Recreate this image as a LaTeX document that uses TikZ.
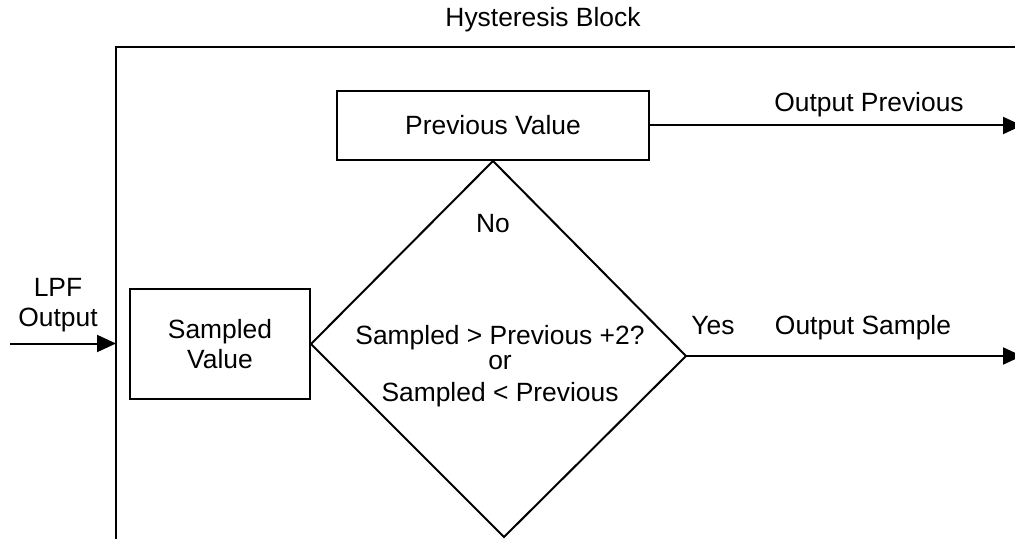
\documentclass[tikz,border=0pt]{standalone}
\usepackage{fontspec}
\setmainfont{Liberation Sans}
\usetikzlibrary{arrows.meta}
\begin{document}
\begin{tikzpicture}[x=0.5pt,y=-0.5pt,line width=1pt,
    font=\fontsize{13.2}{15}\selectfont,
    blockbox/.style={draw,inner sep=0pt,align=center},
    txt/.style={anchor=base,inner sep=0pt},
    flow/.style={-{Triangle[length=9.5pt,width=8.5pt]}}]
  \useasboundingbox (0,0) rectangle (1015,539);
  \clip (0,0) rectangle (1015,539);
  \draw (116,545) -- (116,47.5) -- (1020,47.5);
  \node[txt] (title) at (543,27) {Hysteresis Block};
  \node[blockbox,minimum width=156pt,minimum height=34.5pt] (prev) at (493,125.5) {Previous Value};
  \node[blockbox,minimum width=90pt,minimum height=55pt] (samp) at (220,344) {Sampled\\Value};
  \coordinate (dtop) at (prev.south);
  \coordinate (dleft) at (samp.east);
  \coordinate (dbottom) at (504,537);
  \coordinate (dright) at (686,356);
  \draw (dtop) -- (dleft) -- (dbottom) -- (dright) -- cycle;
  \node[inner sep=0pt,align=center] (cond) at (500,366)
    {Sampled > Previous +2?\\[-2.5pt]or\\[1pt]Sampled < Previous};
  \node[txt] (no) at (493,233) {No};
  \node[txt] (yes) at (713,334) {Yes};
  \node[txt] (outsamptxt) at (863,334) {Output Sample};
  \node[txt] (outprevtxt) at (869,112) {Output Previous};
  \node[inner sep=0pt,align=center,anchor=south] (lpf) at (58,332.5) {LPF\\Output};
  \coordinate (inp) at (10,343.5);
  \coordinate (inend) at (116,343.5);
  \coordinate (outprev) at (1022,125.5);
  \coordinate (outsamp) at (1022,356);
  \draw[flow] (inp) -- (inend);
  \draw[flow] (prev.east) -- (outprev);
  \draw[flow] (dright) -- (outsamp);
\end{tikzpicture}
\end{document}
